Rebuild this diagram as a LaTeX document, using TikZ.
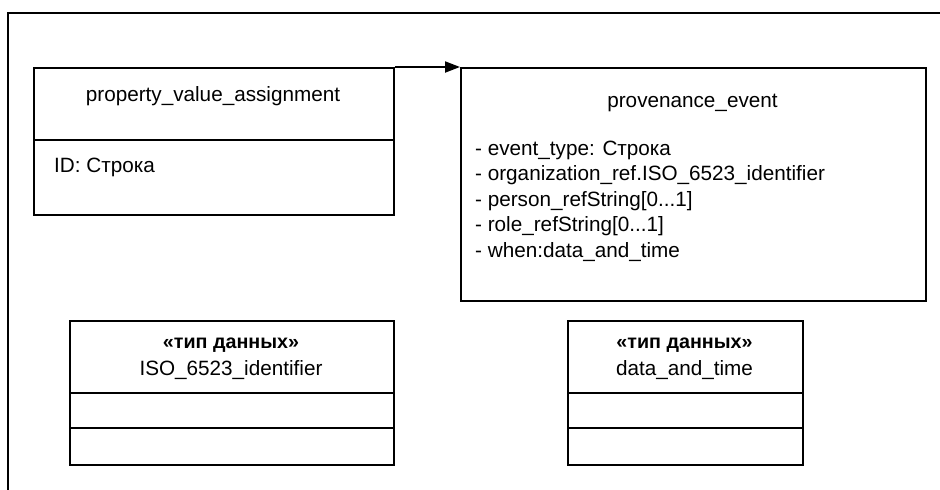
\documentclass[tikz,border=0pt]{standalone}
\usepackage{fontspec}
\setmainfont{Liberation Sans}
\usetikzlibrary{arrows.meta}
\begin{document}
\begin{tikzpicture}[x=1pt,y=-1pt,
  box/.style={draw, line width=2pt, rectangle, anchor=north west, inner sep=0pt},
  txt/.style={inner sep=0pt, anchor=base, font=\fontsize{20.7}{25.7}\selectfont},
  attr/.style={txt, anchor=base west},
  stereo/.style={inner sep=0pt, anchor=base, font=\fontsize{19.7}{24}\selectfont\bfseries},
  divider/.style={line width=2pt},
  frame/.style={line width=2pt}]
\useasboundingbox (0,0) rectangle (940,490);
% frame
\coordinate (fr) at (941,13);
\coordinate (fc) at (8,13);
\coordinate (fb) at (8,491);
\draw[frame] (fr) -- (fc) -- (fb);
% box 1
\node[box, minimum width=360pt, minimum height=147pt] (b1) at (33,67) {};
\draw[divider] (b1.west |- 0,140) -- (b1.east |- 0,140);
\node[txt] (b1t) at (213,101) {property\_value\_assignment};
\node[attr] (b1a) at (54,172) {ID: Строка};
% box 2
\node[box, minimum width=465pt, minimum height=233pt] (b2) at (460,67) {};
\node[txt] (b2t) at (692.5,107) {provenance\_event};
\node[attr] (b2a1) at (475,155) {- event\_type: Строка};
\node[attr] (b2a2) at (475,180.5) {- organization\_ref.ISO\_6523\_identifier};
\node[attr] (b2a3) at (475,206) {- person\_refString[0...1]};
\node[attr] (b2a4) at (475,231.5) {- role\_refString[0...1]};
\node[attr] (b2a5) at (475,257) {- when:data\_and\_time};
% arrow
\draw[line width=2pt, -{Triangle[length=15pt, width=11pt]}] (b1.north east) -- (b2.north west);
% box 3
\node[box, minimum width=324pt, minimum height=144pt] (b3) at (69,320) {};
\draw[divider] (b3.west |- 0,393) -- (b3.east |- 0,393);
\draw[divider] (b3.west |- 0,428) -- (b3.east |- 0,428);
\node[stereo] (b3s) at (231,348) {«тип данных»};
\node[txt] (b3t) at (231,375) {ISO\_6523\_identifier};
% box 4
\node[box, minimum width=235pt, minimum height=144pt] (b4) at (567,320) {};
\draw[divider] (b4.west |- 0,393) -- (b4.east |- 0,393);
\draw[divider] (b4.west |- 0,428) -- (b4.east |- 0,428);
\node[stereo] (b4s) at (684.5,348) {«тип данных»};
\node[txt] (b4t) at (684.5,375) {data\_and\_time};
\end{tikzpicture}
\end{document}
